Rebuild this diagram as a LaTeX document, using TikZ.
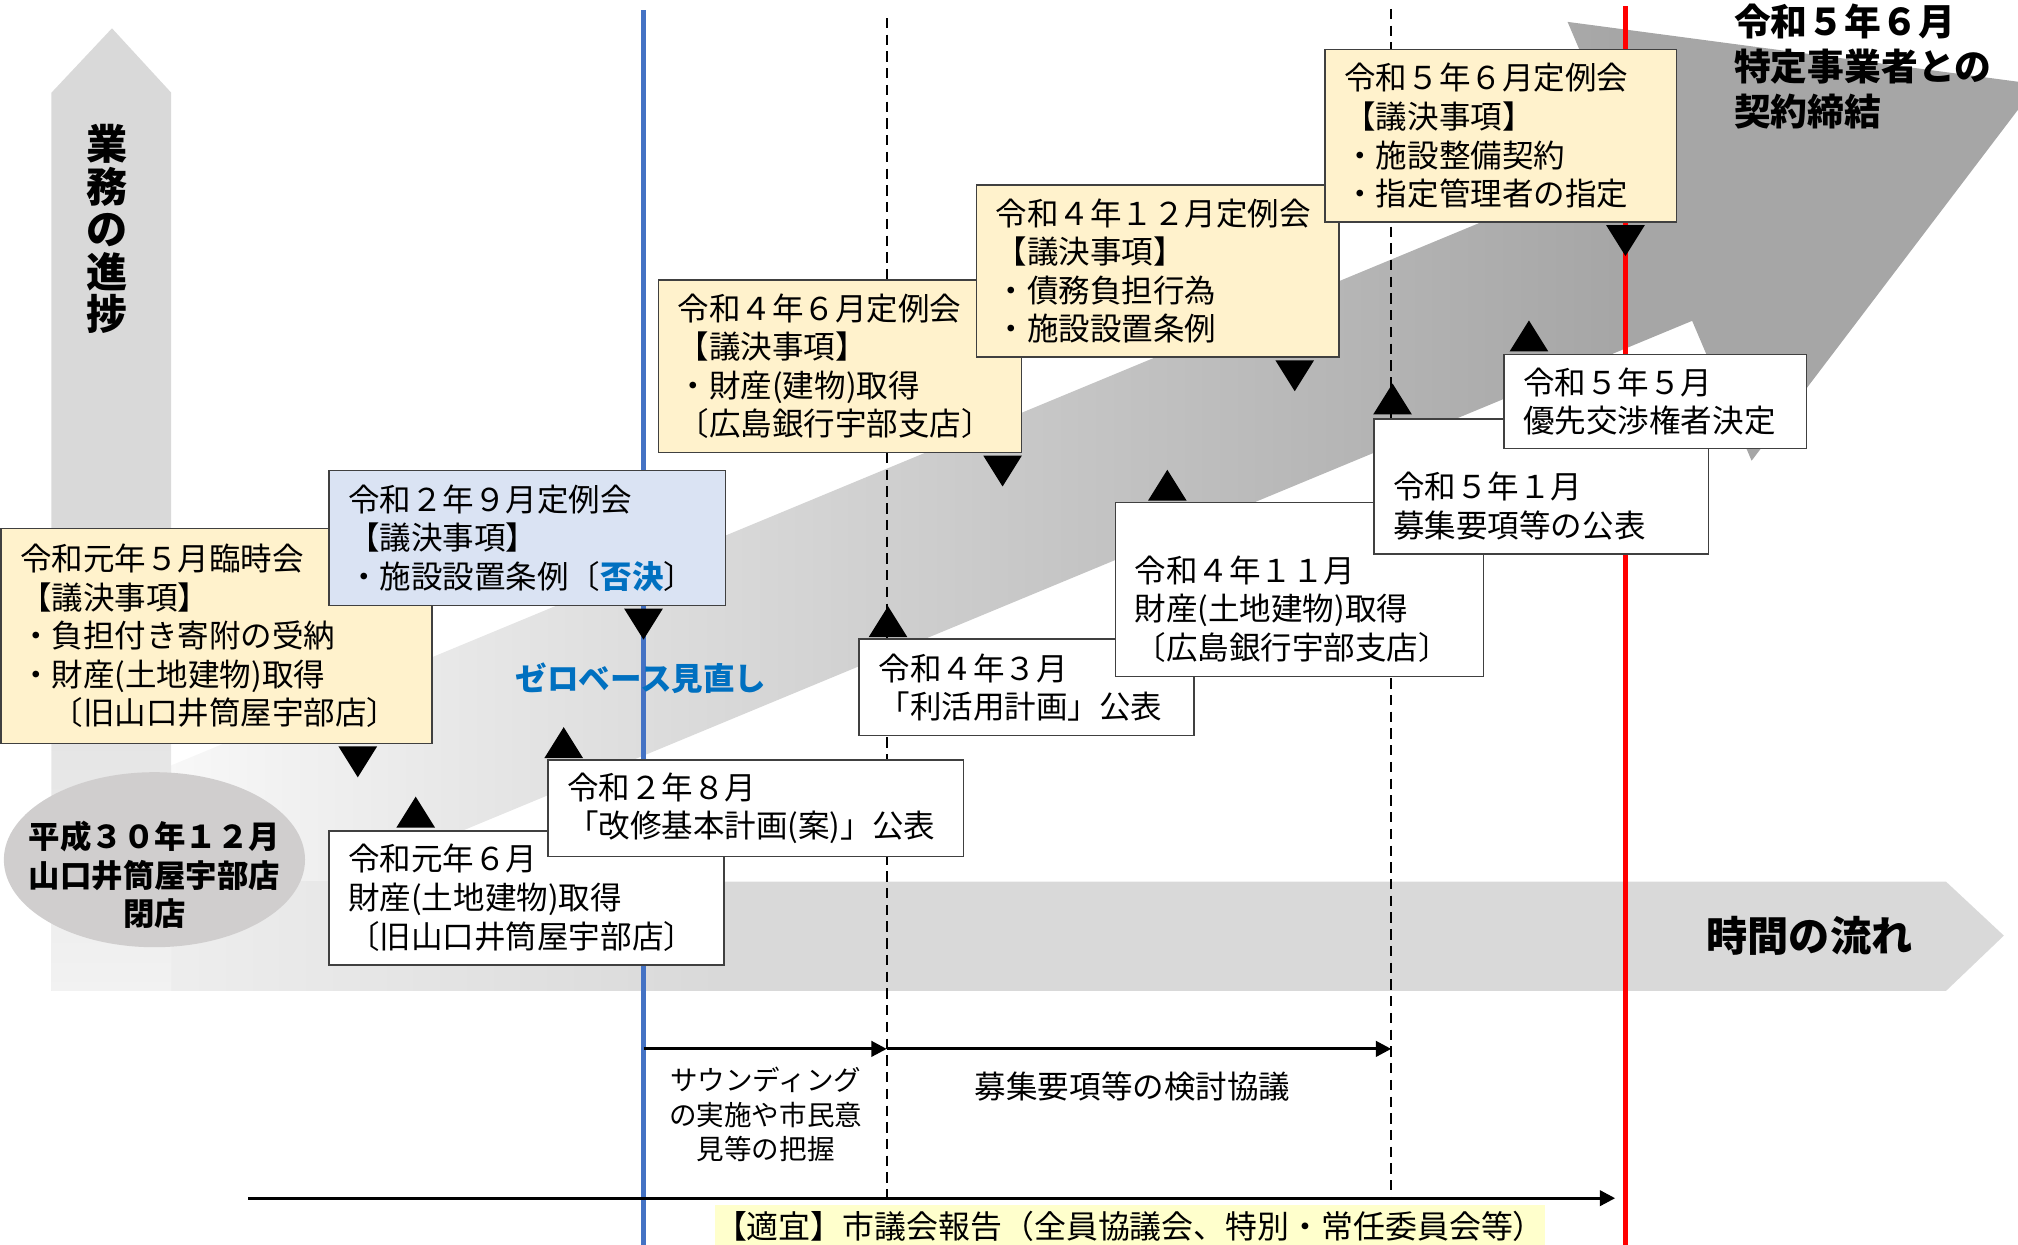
\documentclass[tikz,border=0pt]{standalone}
\usepackage{fontspec}
\setmainfont{Noto Sans CJK JP}
\usetikzlibrary{shapes.geometric,arrows.meta}

\definecolor{meetfill}{HTML}{FFF2CC}
\definecolor{rejectfill}{HTML}{DAE3F3}
\definecolor{zeroblue}{HTML}{0070C0}
\definecolor{lineblue}{HTML}{4472C4}
\definecolor{axisgray}{HTML}{D9D9D9}
\definecolor{axislight}{HTML}{F2F2F2}
\definecolor{closegray}{HTML}{D0CECE}
\definecolor{notefill}{HTML}{FFFFCC}
\definecolor{bandlight}{HTML}{F8F8F8}
\definecolor{banddark}{HTML}{A6A6A6}

\pgfdeclarehorizontalshading{progressband}{100bp}{color(0bp)=(bandlight); color(26bp)=(bandlight); color(64bp)=(banddark); color(100bp)=(banddark)}

\newcommand{\downmark}[1]{\fill (#1) ++(-15,0) -- ++(30,0) -- ++(-15,24) -- cycle;}
\newcommand{\upmark}[1]{\fill (#1) ++(-15,0) -- ++(30,0) -- ++(-15,-24) -- cycle;}

\begin{document}
\begin{tikzpicture}[x=0.5pt,y=-0.5pt,
		every node/.style={inner sep=0pt},
		boxtext/.style={font=\fontsize{12.25}{15}\selectfont},
		event/.style={boxtext, draw=black!75, line width=0.6pt, anchor=north west, align=left, inner xsep=7.5pt, fill=white},
		meeting/.style={event, fill=meetfill},
		rejected/.style={event, fill=rejectfill},
		timeline/.style={line width=0.7pt, dash pattern=on 4pt off 2.5pt},
		period/.style={line width=1.2pt, -{Triangle[length=6pt,width=6pt]}},
		axislabel/.style={font=\fontsize{16}{16.5}\selectfont\bfseries, align=center}]
		\useasboundingbox (0,0) rectangle (1568,967);
		\clip (0,0) rectangle (1568,967);
		% progress arrow
		\shade [shading=progressband] (100,608.4) -- (1264.2,125.7) -- (1218,17) -- (1583,65.5) -- (1361,358) -- (1314.8,249.3) -- (150.6,732) -- cycle;
		% axes
		\fill [axisgray] (40,685) -- (1512,685) -- (1557,727) -- (1512,770) -- (40,770) -- cycle;
		\shade [left color=axislight, right color=axisgray] (40,685) rectangle (560,770);
		\shade [top color=axisgray, bottom color=axislight, middle color=axisgray] (40,770) -- (40,72) -- (87,22) -- (133,72) -- (133,770) -- cycle;
		\node [axislabel] (progress) at (83,178) {業\\務\\の\\進\\捗};
		\node [axislabel] (flow) at (1406,727) {時間の流れ};
		\node [ellipse, fill=closegray, minimum width=117pt, minimum height=68pt] (closure) at (120,668) {};
		\node [font=\fontsize{12.2}{15}\selectfont\bfseries, align=center] (closuretext) at (120,680) {平成３０年１２月\\山口井筒屋宇部店\\閉店};
		% timelines
		\draw [lineblue, line width=1.6pt] (500,8) -- (500,967);
		\draw [timeline] (689,14) -- (689,931);
		\draw [timeline] (1081,7) -- (1081,931);
		\draw [red, line width=1.8pt] (1263,5) -- (1263,967);
		\coordinate (zerobase) at (500,815);
		\coordinate (sounding) at (689,815);
		\coordinate (recruit) at (1081,815);
		\coordinate (reportstart) at (193,931);
		\coordinate (reportend) at (1255,931);
		\draw [period] (zerobase) -- (sounding);
		\draw [period] (sounding) -- (recruit);
		\draw [period] (reportstart) -- (reportend);
		\node [font=\fontsize{10.7}{13.5}\selectfont, align=center] (soundtext) at (595,866) {サウンディング\\の実施や市民意\\見等の把握};
		\node [boxtext] (recruittext) at (880,844) {募集要項等の検討協議};
		\node [font=\fontsize{12.4}{15}\selectfont, fill=notefill, minimum height=17pt] (reporttext) at (878,953) {【適宜】市議会報告（全員協議会、特別・常任委員会等）};
		\node [font=\fontsize{12.25}{15}\selectfont\bfseries, text=zeroblue] (zerotext) at (498,527) {ゼロベース見直し};
		% markers
		\downmark{278,580}
		\downmark{500,473}
		\downmark{779,354}
		\downmark{1006,280}
		\downmark{1263,175}
		\upmark{323,643}
		\upmark{438,589}
		\upmark{690,495}
		\upmark{907,389}
		\upmark{1082,322}
		\upmark{1188,273}
		% council
		\node [meeting, text width=152.5pt, minimum height=83.5pt] (may1) at (0,410) {令和元年５月臨時会\\【議決事項】\\・負担付き寄附の受納\\・財産(土地建物)取得\\　〔旧山口井筒屋宇部店〕};
		\node [rejected, text width=139pt, minimum height=52.5pt] (sep2) at (255,365) {令和２年９月定例会\\【議決事項】\\・施設設置条例〔{\color{zeroblue}\bfseries 否決}〕};
		\node [meeting, text width=126pt, minimum height=67pt] (jun4) at (511,217) {令和４年６月定例会\\【議決事項】\\・財産(建物)取得\\〔広島銀行宇部支店〕};
		\node [meeting, text width=126pt, minimum height=67pt] (dec4) at (758,143) {令和４年１２月定例会\\【議決事項】\\・債務負担行為\\・施設設置条例};
		\node [meeting, text width=121.5pt, minimum height=67pt] (jun5) at (1029,38) {令和５年６月定例会\\【議決事項】\\・施設整備契約\\・指定管理者の指定};
		% events
		\node [event, text width=138.5pt, minimum height=52pt] (jun1) at (255,645) {令和元年６月\\財産(土地建物)取得\\〔旧山口井筒屋宇部店〕};
		\node [event, text width=146.5pt, minimum height=37.5pt] (aug2) at (425,590) {令和２年８月\\「改修基本計画(案)」公表};
		\node [event, text width=115pt, minimum height=37.5pt] (mar4) at (667,496) {令和４年３月\\「利活用計画」公表};
		\node [event, text width=128pt, minimum height=67.5pt] (nov4) at (866,390) {\strut\\令和４年１１月\\財産(土地建物)取得\\〔広島銀行宇部支店〕};
		\node [event, text width=115pt, minimum height=52.5pt] (jan5) at (1067,325) {\strut\\令和５年１月\\募集要項等の公表};
		\node [event, text width=102.5pt, minimum height=36.5pt] (may5) at (1168,275) {令和５年５月\\優先交渉権者決定};
		\node [font=\fontsize{14.3}{17.5}\selectfont\bfseries, align=left, anchor=west] (contract) at (1347,52) {令和５年６月\\特定事業者との\\契約締結};
	\end{tikzpicture}
\end{document}
